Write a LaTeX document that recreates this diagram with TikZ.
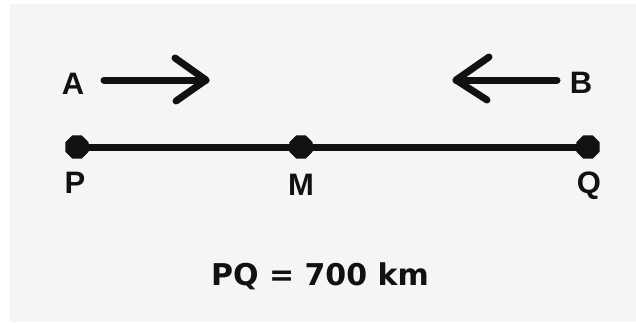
\documentclass[tikz,border=0pt]{standalone}
\usepackage{fontspec}
\setmainfont{Liberation Sans}
\newfontfamily\dejabold{DejaVu Sans}
\usetikzlibrary{shapes.geometric}
\definecolor{bggray}{HTML}{F6F5F3}
\definecolor{ink}{HTML}{111111}
\tikzset{
  lbl/.style={font=\fontsize{31}{31}\selectfont\bfseries, text=ink, inner sep=0pt, anchor=base},
  pt/.style={regular polygon, regular polygon sides=8, fill=ink, minimum size=25pt, inner sep=0pt},
  seg/.style={draw=ink, line width=7pt},
  arr/.style={draw=ink, line width=7pt, line cap=round, line join=round}
}
\begin{document}
\begin{tikzpicture}[x=1pt,y=-1pt]
\useasboundingbox (0,0) rectangle (636,322);
\fill[white] (0,0) rectangle (636,322);
\fill[bggray] (10,4) rectangle (636,322);
% points
\node[pt] (P) at (77,147) {};
\node[pt] (M) at (301,147) {};
\node[pt] (Q) at (588,147) {};
\draw[seg] (P.center) -- (M.center) -- (Q.center);
% labels
\node[lbl] (lP) at (75,193) {P};
\node[lbl] (lM) at (301,195) {M};
\node[lbl] (lQ) at (589,193) {Q};
\node[lbl] (lA) at (73,94) {A};
\node[lbl] (lB) at (581,93) {B};
% arrow from A
\coordinate (a1) at (104,80);
\coordinate (a2) at (206,80);
\coordinate (a3) at (175,58);
\coordinate (a4) at (176,101);
\draw[arr] (a1) -- (a2);
\draw[arr] (a3) -- (a2) -- (a4);
% arrow from B
\coordinate (b1) at (557,80);
\coordinate (b2) at (456,80);
\coordinate (b3) at (489,57);
\coordinate (b4) at (487,100);
\draw[arr] (b1) -- (b2);
\draw[arr] (b3) -- (b2) -- (b4);
% caption
\node[font=\dejabold\fontsize{30}{30}\selectfont\bfseries, text=ink, inner sep=0pt, anchor=base] (cap) at (320,285) {PQ = 700 km};
\end{tikzpicture}
\end{document}
